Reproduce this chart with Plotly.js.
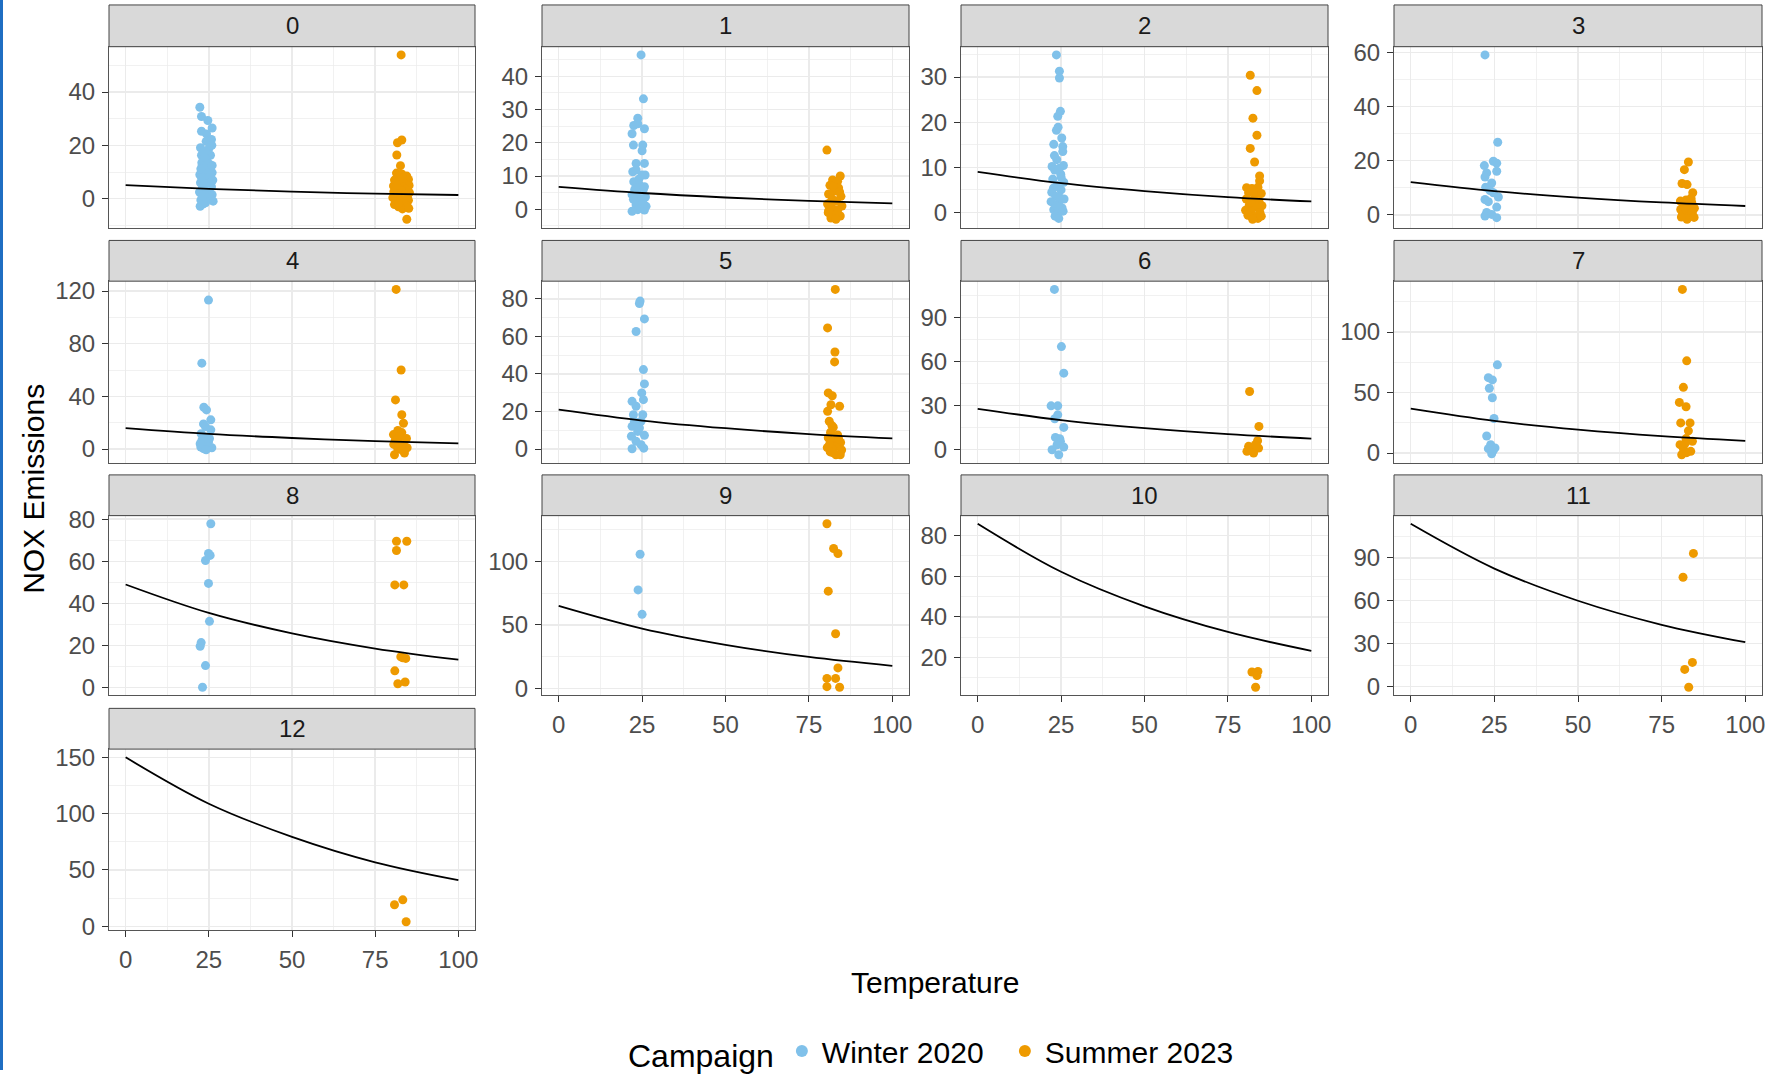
<!DOCTYPE html>
<html><head><meta charset="utf-8">
<script src="https://cdn.plot.ly/plotly-3.0.1.min.js"></script>
<style>html,body{margin:0;padding:0;background:#fff;overflow:hidden}#chart{position:absolute;left:0;top:0;width:1765px;height:1077px;overflow:hidden}</style>
</head><body><div id="chart"></div>
<script>
// ---------- DATA ----------
const panelNames = ['0','1','2','3','4','5','6','7','8','9','10','11','12'];
const seriesNames = ['Winter 2020', 'Summer 2023'];
const yTickStep = [20,10,10,20,40,20,30,50,20,50,20,30,50];
const xTickStep = 25;

const winterTemp = [
 [22.3,22.8,24.7,26.0,22.8,24.3,25.8,24.2,22.5,25.0,22.8,25.5,24.4,23.0,25.4,24.0,26.0,22.3,25.0,23.5,26.2,22.5,24.5,25.8,23.0,24.8,22.2,26.0,23.8,25.2,22.6,26.3,24.0,22.4,23.2,25.6,23.3,24.6,22.9,25.1,23.6,25.9,23.0,25.0,22.8,26.0,23.8,24.3,25.5,22.6],
 [24.7,25.4,23.7,23.7,22.5,25.7,22.0,22.4,25.2,25.0,23.2,25.7,22.2,23.2,25.9,25.0,22.5,24.2,25.7,25.4,23.2,22.0,26.0,24.2,22.4,24.7,23.2,26.2,23.7,22.0,25.7,24.0,22.8,25.3],
 [23.6,24.5,24.5,24.8,24.0,24.1,23.6,25.2,22.8,25.5,25.5,23.7,22.3,25.7,23.1,24.9,22.5,25.8,23.8,22.2,25.0,23.4,25.9,22.0,24.2,25.3,22.8,24.0,25.6,23.2,24.3,24.5,23.0,25.0,22.7,24.6,23.5],
 [22.2,26.0,24.7,25.7,22.0,25.7,22.7,22.2,24.2,22.4,23.7,26.2,22.2,23.2,25.7,22.7,24.2,25.7,22.2,24.7],
 [24.9,22.9,23.5,24.3,25.6,23.4,25.6,22.7,23.9,22.4,24.6,23.4,25.9,22.9,24.9,24.0,25.2,22.6,24.2],
 [24.4,24.2,25.7,23.2,25.4,25.7,24.9,22.0,25.4,23.2,22.4,25.2,24.7,22.0,23.7,25.7,21.8,23.2,24.7,22.0,25.5,24.2,22.7],
 [23.0,25.1,25.8,22.0,24.0,24.0,23.1,25.8,23.3,24.6,24.8,22.3,25.8,24.3,23.8],
 [25.9,23.2,24.4,23.5,24.4,24.9,22.7,23.9,23.2,25.2,24.2,24.7],
 [25.6,24.9,25.4,24.0,24.9,25.2,22.7,22.4,24.0,23.1],
 [24.4,23.8,25.0],
 [], [], []
];
const winterNOx = [
 [34.3,30.8,29.3,26.5,25.3,24.3,22.2,21.5,19.1,18.8,16.3,16.3,14.4,12.5,11.9,10.0,9.8,9.0,8.5,7.5,7.0,6.0,5.5,4.5,3.8,3.0,2.5,1.5,1.0,0.0,-0.5,-0.9,-1.5,-2.8,-2.0,5.8,5.0,11.0,13.5,13.0,17.5,20.0,0.8,2.0,8.0,12.5,15.5,3.5,9.2,11.2],
 [46.4,33.2,27.4,25.7,25.2,24.2,22.7,19.3,19.3,17.6,13.8,13.8,11.3,11.8,10.3,10.3,8.3,7.3,6.8,6.0,4.9,4.4,3.7,3.4,3.0,2.4,1.4,0.9,-0.1,-0.6,-0.2,9.0,6.0,1.8],
 [34.9,31.3,29.8,22.4,21.3,18.9,18.2,16.5,15.1,14.6,13.5,11.7,10.2,10.4,9.4,8.5,7.4,6.7,6.0,4.5,5.0,3.6,3.0,2.4,2.0,1.0,0.6,-0.2,0.3,-0.8,-1.3,9.8,12.6,7.8,5.4,3.3,1.5],
 [59.0,26.8,19.8,19.1,18.2,16.1,15.5,14.0,11.8,10.2,9.0,6.6,5.7,4.9,2.9,0.9,0.2,-1.0,-0.4,8.2],
 [113.1,65.2,31.7,29.7,22.2,19.1,14.6,11.6,9.1,4.0,2.8,0.3,1.0,6.5,5.3,17.0,8.0,1.5,-0.5],
 [78.8,77.5,69.3,62.6,42.3,34.7,29.9,25.4,26.3,22.8,18.3,18.3,14.8,12.1,9.4,7.3,6.8,4.1,2.3,0.2,0.5,11.2,14.8],
 [109.3,70.3,52.2,29.9,29.9,23.8,21.1,15.2,8.4,7.5,5.7,0.0,1.8,-3.4,3.4],
 [72.9,62.3,60.4,53.5,45.7,28.5,14.1,6.9,3.6,4.2,-0.6,2.2],
 [77.8,63.7,62.8,60.4,49.5,31.5,21.4,19.7,10.5,0.2],
 [105.7,77.6,58.3],
 [], [], []
];
const summerTemp = [
 [82.8,81.7,83.0,81.5,82.6,81.4,83.0,84.5,85.0,80.8,82.2,83.8,85.2,80.5,81.8,84.0,82.9,80.6,85.3,81.6,83.5,84.7,80.3,82.4,85.0,81.2,83.6,80.8,84.6,82.0,83.2,84.5,85.1,81.5,83.2,84.2,82.0],
 [80.4,84.4,82.1,83.6,81.3,83.9,82.5,80.9,84.6,82.0,83.3,80.6,84.9,81.9,83.6,80.8,82.9,84.4,81.6,83.1,82.4,81.4,84.2,80.9],
 [81.7,83.7,82.5,83.7,81.7,83.0,84.5,84.5,80.6,82.2,84.0,81.2,83.3,85.0,80.5,82.6,84.3,81.4,83.6,85.2,80.3,82.0,84.6,81.0,83.0,84.0,82.4,85.0,82.6,81.9],
 [83.0,81.8,81.1,82.6,84.3,80.6,82.3,84.0,81.5,83.3,84.8,80.7,82.5,84.2,81.2,83.5,82.6,80.9,84.7,82.0,83.8],
 [81.3,82.8,81.1,83.0,83.5,81.8,83.0,80.5,82.2,84.4,81.0,83.5,80.6,82.7,84.6,81.8,83.2,80.8,83.8,82.0],
 [82.9,80.6,82.8,82.7,80.8,82.0,84.2,81.6,80.6,81.1,82.3,81.5,83.6,80.8,82.6,84.5,81.2,83.3,80.5,82.0,84.8,81.4,83.1,84.4,82.3,83.9,81.9],
 [81.5,84.3,83.9,81.2,82.2,84.2,82.7,80.7,83.2],
 [81.2,82.5,81.5,80.3,82.3,80.7,83.5,83.0,82.3,84.2,80.5,81.5,83.7,81.0,82.5,82.0],
 [81.4,81.4,84.5,80.9,83.6,82.7,84.2,83.3,80.9,81.8,84.0],
 [80.4,82.4,83.7,80.8,83.0,83.7,80.4,83.0,80.4,84.2],
 [82.2,84.0,83.7,83.3],
 [84.5,81.4,84.2,81.9,83.1],
 [80.8,83.3,84.3]
];
const summerNOx = [
 [53.9,21.0,22.0,16.4,12.4,9.6,9.3,8.5,7.2,7.0,6.2,5.8,5.0,4.8,4.0,3.6,3.0,2.6,2.3,1.8,1.2,0.6,0.4,0.0,-0.6,-1.0,-1.4,-2.2,-2.8,-3.0,-3.8,-7.7,-3.6,6.5,7.8,1.5,-1.8],
 [17.8,10.0,8.8,8.4,7.2,6.4,5.5,4.6,3.9,3.1,2.4,1.6,1.0,0.4,-0.3,-1.0,-1.6,-2.0,-2.6,-3.0,6.8,2.0,5.2,-0.5],
 [30.4,27.0,20.9,17.1,14.2,11.2,8.1,7.0,5.5,5.3,5.6,4.4,4.0,4.2,3.0,2.8,2.5,1.6,1.2,1.5,0.5,0.2,0.0,-0.6,-0.9,-1.3,-1.5,-0.8,4.8,2.2],
 [19.5,16.7,11.6,11.2,8.2,5.1,5.5,4.6,3.6,3.2,2.5,2.0,1.4,0.8,0.2,-0.3,-1.6,-0.8,-0.9,2.8,6.2],
 [121.2,60.0,37.3,26.0,19.6,14.1,12.5,11.0,9.5,8.0,6.5,5.0,3.5,2.0,1.0,0.0,-1.0,-4.3,-3.0,4.5],
 [85.0,64.5,51.7,46.4,29.9,28.4,22.8,23.6,20.1,14.8,11.6,9.0,7.5,6.0,4.5,3.5,2.5,1.5,0.8,0.0,-0.5,-1.5,-3.0,-3.0,-2.0,5.5,12.5],
 [39.7,15.9,6.1,2.3,-0.7,1.1,-2.3,-1.1,3.4],
 [135.2,76.2,54.3,41.8,38.2,24.9,24.9,18.3,11.9,9.7,6.9,3.6,1.4,-1.4,0.3,7.8],
 [65.1,69.5,69.5,48.8,48.8,14.7,13.9,14.2,8.0,1.9,2.7],
 [129.7,110.2,106.3,76.6,43.0,16.1,7.8,7.8,1.3,0.8],
 [12.9,13.2,11.2,5.4],
 [93.1,76.4,16.9,12.0,-0.5],
 [19.1,23.5,4.1]
];
const fitTemp = [0, 25, 50, 75, 100];
const fitNOx = [
 [5.1,3.7,2.7,1.9,1.4],
 [6.75,4.9,3.55,2.55,1.8],
 [9.0,6.5,4.75,3.4,2.45],
 [12.1,8.8,6.4,4.6,3.3],
 [15.9,11.5,8.4,6.0,4.3],
 [21.0,15.2,11.1,8.0,5.7],
 [27.9,20.2,14.7,10.6,7.6],
 [36.6,26.5,19.3,13.9,10.0],
 [49.0,35.5,25.8,18.6,13.3],
 [65.0,47.1,34.3,24.7,17.7],
 [85.8,62.2,45.2,32.6,23.3],
 [113.8,82.5,60.0,43.2,31.0],
 [150.0,108.8,79.4,56.8,41.0]
];

// ---------- LAYOUT GEOMETRY (pixels) ----------
const W = 1765, H = 1077;
const colLeft = [109, 542, 961, 1394], colRight = [475, 909, 1328, 1762];
const stripTop = [5, 242, 478, 713], plotTop = [47, 283, 519, 754], plotBottom = [229, 466, 700, 936];
const FONT = 'Liberation Sans, Arial, sans-serif';
const colors = ['#80C1EA', '#EE9A00'];

const traces = [];
const layout = {
  width: W, height: H, margin: {l: 0, r: 0, t: 0, b: 0},
  paper_bgcolor: '#ffffff', plot_bgcolor: '#ffffff',
  font: {family: FONT, color: '#000000'},
  showlegend: true,
  legend: {
    orientation: 'h', x: 626 / W, xanchor: 'left', y: 1 - 1058 / H, yanchor: 'middle',
    title: {text: 'Campaign', side: 'left', font: {size: 32, family: FONT, color: '#000'}},
    font: {size: 30, family: FONT, color: '#000'}, itemsizing: 'constant',
    bgcolor: 'rgba(0,0,0,0)'
  },
  shapes: [], annotations: []
};

function yRange(i) {
  const all = winterNOx[i].concat(summerNOx[i], fitNOx[i]);
  const mn = Math.min(...all), mx = Math.max(...all);
  const pad = (mx - mn) * 0.05;
  return [mn - pad, mx + pad];
}

panelNames.forEach((name, i) => {
  const r = Math.floor(i / 4), c = i % 4;
  const suf = i === 0 ? '' : String(i + 1);
  const xa = 'x' + suf, ya = 'y' + suf;
  const bottom = i >= 9;

  traces.push({
    type: 'scatter', mode: 'markers', x: winterTemp[i], y: winterNOx[i],
    xaxis: xa, yaxis: ya, name: seriesNames[0], legendgroup: 'w', showlegend: i === 0,
    legendwidth: 178,
    marker: {color: colors[0], size: 9, line: {width: 0}}, hoverinfo: 'skip'
  });
  traces.push({
    type: 'scatter', mode: 'markers', x: summerTemp[i], y: summerNOx[i],
    xaxis: xa, yaxis: ya, name: seriesNames[1], legendgroup: 's', showlegend: i === 0,
    legendwidth: 200,
    marker: {color: colors[1], size: 9, line: {width: 0}}, hoverinfo: 'skip'
  });
  traces.push({
    type: 'scatter', mode: 'lines', x: fitTemp, y: fitNOx[i],
    xaxis: xa, yaxis: ya, showlegend: false,
    line: {color: '#000000', width: 1.8, shape: 'spline', smoothing: 1}, hoverinfo: 'skip'
  });

  layout['xaxis' + suf] = {
    domain: [colLeft[c] / W, colRight[c] / W], anchor: ya, range: [-5, 105],
    tick0: 0, dtick: xTickStep, showgrid: true, gridcolor: '#EBEBEB', gridwidth: 1.4,
    minor: {tick0: 0, dtick: xTickStep / 2, showgrid: true, gridcolor: '#EBEBEB', gridwidth: 0.7},
    zeroline: false, showline: true, mirror: true, linecolor: '#555555', linewidth: 1,
    ticks: bottom ? 'outside' : '', ticklen: 6, tickcolor: '#333333', tickwidth: 1,
    showticklabels: bottom, ticklabeloverflow: 'allow', ticklabelstandoff: 2,
    tickfont: {family: FONT, size: 24, color: '#4D4D4D'}
  };
  layout['yaxis' + suf] = {
    domain: [1 - plotBottom[r] / H, 1 - plotTop[r] / H], anchor: xa, range: yRange(i),
    tick0: 0, dtick: yTickStep[i], showgrid: true, gridcolor: '#EBEBEB', gridwidth: 1.4,
    minor: {tick0: 0, dtick: yTickStep[i] / 2, showgrid: true, gridcolor: '#EBEBEB', gridwidth: 0.7},
    zeroline: false, showline: true, mirror: true, linecolor: '#555555', linewidth: 1,
    ticks: 'outside', ticklen: 6, tickcolor: '#333333', tickwidth: 1,
    ticklabeloverflow: 'allow', ticklabelstandoff: 2,
    tickfont: {family: FONT, size: 24, color: '#4D4D4D'}
  };

  layout.shapes.push({
    type: 'rect', xref: 'paper', yref: 'paper',
    x0: colLeft[c] / W, x1: colRight[c] / W, y0: 1 - plotTop[r] / H, y1: 1 - stripTop[r] / H,
    fillcolor: '#D9D9D9', line: {color: '#444444', width: 1}, layer: 'above'
  });
  layout.annotations.push({
    xref: 'paper', yref: 'paper', x: (colLeft[c] + colRight[c]) / 2 / W,
    y: 1 - (stripTop[r] + plotTop[r]) / 2 / H, text: name, showarrow: false,
    xanchor: 'center', yanchor: 'middle', font: {family: FONT, size: 24, color: '#1A1A1A'}
  });
});

// left edge accent bar
layout.shapes.push({type: 'rect', xref: 'paper', yref: 'paper', x0: 0, x1: 3 / W, y0: 0, y1: 1,
  fillcolor: '#1F6EC2', line: {width: 0}, layer: 'above'});

layout.annotations.push({
  xref: 'paper', yref: 'paper', x: 935 / W, y: 1 - 989 / H, text: 'Temperature', showarrow: false,
  xanchor: 'center', yanchor: 'middle', font: {family: FONT, size: 30, color: '#000'}
});
layout.annotations.push({
  xref: 'paper', yref: 'paper', x: 34 / W, y: 1 - 492 / H, text: 'NOX Emissions', showarrow: false,
  textangle: -90, xanchor: 'center', yanchor: 'middle', font: {family: FONT, size: 30, color: '#000'}
});

Plotly.newPlot('chart', traces, layout, {staticPlot: true, displayModeBar: false});
</script>
</body></html>
